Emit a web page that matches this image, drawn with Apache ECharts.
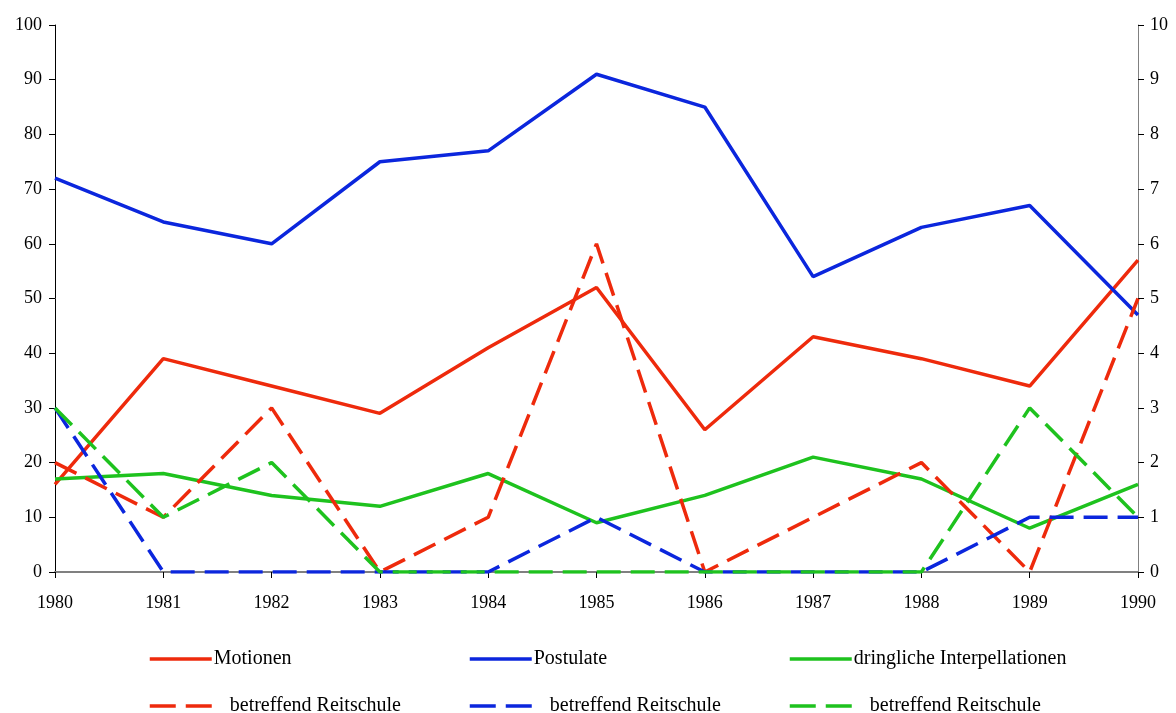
<!DOCTYPE html>
<html>
<head>
<meta charset="utf-8">
<script src="https://cdn.jsdelivr.net/npm/echarts@6/dist/echarts.min.js"></script>
<style>
    html, body { margin: 0; padding: 0; background: #fff; }
    #chart { width: 1176px; height: 713px; }
</style>
</head>
<body>
<div id="chart"></div>
<script>
    // Jahre
    var years = ['1980', '1981', '1982', '1983', '1984', '1985', '1986', '1987', '1988', '1989', '1990'];

    // linke Achse (0-100)
    var motionen = [16, 39, 34, 29, 41, 52, 26, 43, 39, 34, 57];
    var postulate = [72, 64, 60, 75, 77, 91, 85, 54, 63, 67, 47];
    var interpellationen = [17, 18, 14, 12, 18, 9, 14, 21, 17, 8, 16];

    // rechte Achse (0-10), betreffend Reitschule
    var motionenReitschule = [2, 1, 3, 0, 1, 6, 0, 1, 2, 0, 5];
    var postulateReitschule = [3, 0, 0, 0, 0, 1, 0, 0, 0, 1, 1];
    var interpellationenReitschule = [3, 1, 2, 0, 0, 0, 0, 0, 0, 3, 1];

    var labels = {
        m: 'Motionen',
        p: 'Postulate',
        i: 'dringliche Interpellationen',
        mr: 'betreffend Reitschule',
        pr: 'betreffend Reitschule',
        ir: 'betreffend Reitschule'
    };

    var RED = '#ee2a0c';
    var BLUE = '#0b26dd';
    var GREEN = '#1ec21e';
    var FONT = 'Liberation Serif';
    var DASH = [24, 10];

    function line(name, data, color, dashed, axis) {
        return {
            name: name,
            type: 'line',
            yAxisIndex: axis,
            data: data,
            symbol: 'none',
            animation: false,
            lineStyle: {
                color: color,
                width: 3.5,
                type: dashed ? DASH : 'solid'
            },
            itemStyle: {color: color}
        };
    }

    function legend(name, left, top, dashed) {
        return {
            data: [name],
            left: left,
            top: top,
            padding: 0,
            itemWidth: 62,
            itemHeight: 14,
            itemGap: 0,
            selectedMode: false,
            itemStyle: {opacity: 0},
            lineStyle: {width: 3.5, type: dashed ? [26, 10] : 'solid'},
            formatter: function (n) {
                return labels[n];
            },
            textStyle: {
                fontFamily: FONT, fontSize: 20, color: '#000',
                padding: [0, 0, 0, dashed ? 13 : -3]
            }
        };
    }

    var chart = echarts.init(document.getElementById('chart'));
    var option = {
        animation: false,
        grid: {left: 55, right: 38, top: 25, bottom: 141},
        legend: [
            legend('m', 148, 649, false),
            legend('p', 468, 649, false),
            legend('i', 788, 649, false),
            legend('mr', 148, 696, true),
            legend('pr', 468, 696, true),
            legend('ir', 788, 696, true)
        ],
        xAxis: {
            type: 'category',
            data: years,
            boundaryGap: false,
            axisLine: {lineStyle: {color: '#808080', width: 2}},
            axisTick: {show: true, length: 6, lineStyle: {color: '#000'}},
            axisLabel: {fontFamily: FONT, fontSize: 18, color: '#000', margin: 22}
        },
        yAxis: [
            {
                type: 'value',
                min: 0,
                max: 100,
                interval: 10,
                position: 'left',
                splitLine: {show: false},
                axisLine: {show: true, lineStyle: {color: '#000', width: 1}},
                axisTick: {show: true, length: 6, lineStyle: {color: '#000'}},
                axisLabel: {fontFamily: FONT, fontSize: 18, color: '#000', margin: 13}
            },
            {
                type: 'value',
                min: 0,
                max: 10,
                interval: 1,
                position: 'right',
                splitLine: {show: false},
                axisLine: {show: true, lineStyle: {color: '#808080', width: 1}},
                axisTick: {show: true, length: 6, lineStyle: {color: '#000'}},
                axisLabel: {fontFamily: FONT, fontSize: 18, color: '#000', margin: 12}
            }
        ],
        series: [
            line('m', motionen, RED, false, 0),
            line('p', postulate, BLUE, false, 0),
            line('i', interpellationen, GREEN, false, 0),
            line('mr', motionenReitschule, RED, true, 1),
            line('pr', postulateReitschule, BLUE, true, 1),
            line('ir', interpellationenReitschule, GREEN, true, 1)
        ]
    };
    chart.setOption(option);
</script>
</body>
</html>
